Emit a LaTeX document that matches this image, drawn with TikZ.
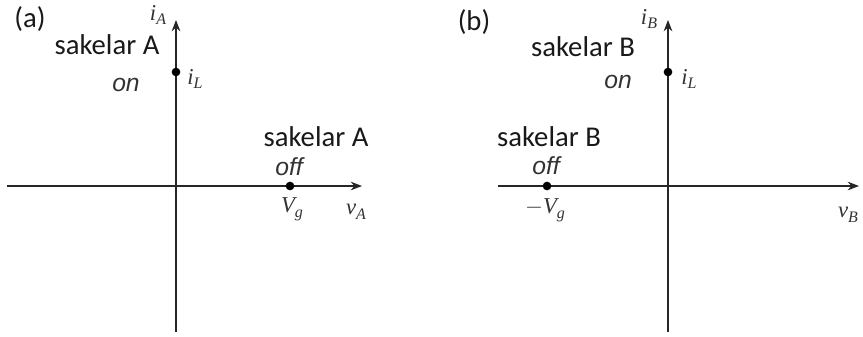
\documentclass[tikz,border=0pt]{standalone}
\usepackage{fontspec}
\setmainfont{Carlito}
\newfontfamily\arialf{Liberation Sans}
\newfontfamily\timesf{Liberation Serif}
\usetikzlibrary{arrows.meta}
\newcommand{\mvar}[2]{{\timesf\itshape #1\raisebox{-0.45ex}{\fontsize{12}{12}\selectfont #2}}}
\begin{document}
\begin{tikzpicture}[x=0.75pt,y=-0.75pt]
\tikzset{
  axis/.style={line width=0.9pt,-{Stealth[length=8.5pt,width=6.5pt]},draw=black!85},
  lbl/.style={inner sep=0pt,text=black!90,font=\fontsize{21.5}{24}\selectfont},
  sw/.style={inner sep=0pt,text=black!80,font=\arialf\itshape\fontsize{18.5}{20}\selectfont},
  mth/.style={inner sep=0pt,text=black!80,font=\fontsize{17}{19}\selectfont},
  pt/.style={circle,fill=black,inner sep=0pt,minimum size=6.5pt}
}
\useasboundingbox (0,0) rectangle (863,336);
% panel (a)
\coordinate (ha0) at (7,186);
\coordinate (ha1) at (362,186);
\coordinate (va0) at (176,332);
\coordinate (va1) at (176,20);
\draw[axis] (ha0) -- (ha1);
\draw[axis] (va0) -- (va1);
\node[pt] (ilA) at (176,72) {};
\node[pt] (vgA) at (290,186) {};
\node[lbl] (labA) at (30,19) {(a)};
\node[lbl] (sakA1) at (107,45) {sakelar A};
\node[sw] (onA) at (126,85) {on};
\node[mth] (iLA) at (195,79) {\mvar{i}{L}};
\node[mth] (iAA) at (158,15) {\mvar{i}{A}};
\node[lbl] (sakA2) at (316,137) {sakelar A};
\node[sw] (offA) at (289,167) {off};
\node[mth] (VgA) at (292,209) {\mvar{V}{g}};
\node[mth] (vAA) at (356,212) {\mvar{v}{A}};
% panel (b)
\coordinate (hb0) at (498,186);
\coordinate (hb1) at (859,186);
\coordinate (vb0) at (668,332);
\coordinate (vb1) at (668,20);
\draw[axis] (hb0) -- (hb1);
\draw[axis] (vb0) -- (vb1);
\node[pt] (ilB) at (668,72) {};
\node[pt] (vgB) at (547,186) {};
\node[lbl] (labB) at (474,22) {(b)};
\node[mth] (iBB) at (649,19) {\mvar{i}{B}};
\node[lbl] (sakB1) at (583,47) {sakelar B};
\node[sw] (onB) at (618,82) {on};
\node[mth] (iLB) at (689,79) {\mvar{i}{L}};
\node[lbl] (sakB2) at (549,137) {sakelar B};
\node[sw] (offB) at (546,166) {off};
\node[mth] (VgB) at (545,210) {\mvar{$-$V}{g}};
\node[mth] (vBB) at (848,215) {\mvar{v}{B}};
\end{tikzpicture}
\end{document}
